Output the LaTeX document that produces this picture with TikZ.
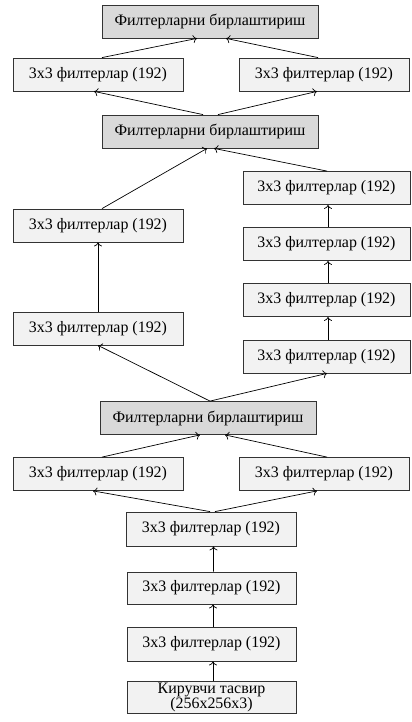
\documentclass[tikz,border=0pt]{standalone}
\usepackage{fontspec}
\setmainfont{Liberation Serif}
\usetikzlibrary{arrows.meta}
\definecolor{boxfill}{HTML}{F2F2F2}
\definecolor{catfill}{HTML}{D9D9D9}
\definecolor{edge}{HTML}{333333}
\begin{document}
\begin{tikzpicture}[x=1bp,y=-1bp,
  box/.style={draw=edge,line width=0.8bp,fill=boxfill,rectangle,inner sep=0pt,
    minimum width=170bp,minimum height=33bp,font=\fontsize{16}{17}\selectfont,align=center},
  colbox/.style={box,minimum width=167bp},
  catbox/.style={box,fill=catfill,minimum width=216bp},
  arr/.style={-{To[length=4bp,width=8bp]},line width=0.7bp,draw=black}]
\useasboundingbox (0,0) rectangle (411,722);
\node[catbox] (C3) at (210,21.5) {Филтерларни бирлаштириш};
\node[box] (L3) at (98,74.5) {3x3 филтерлар (192)};
\node[box] (R3) at (324,74.5) {3x3 филтерлар (192)};
\node[catbox] (C2) at (210,131.5) {Филтерларни бирлаштириш};
\node[colbox] (R4a) at (326.5,188) {3x3 филтерлар (192)};
\node[box] (L4b) at (98,225.5) {3x3 филтерлар (192)};
\node[colbox] (R4b) at (326.5,244) {3x3 филтерлар (192)};
\node[colbox] (R4c) at (326.5,300) {3x3 филтерлар (192)};
\node[box] (L4a) at (98,328.5) {3x3 филтерлар (192)};
\node[colbox] (R4d) at (326.5,356.5) {3x3 филтерлар (192)};
\node[catbox] (C1) at (208,418) {Филтерларни бирлаштириш};
\node[box] (L2) at (98,474) {3x3 филтерлар (192)};
\node[box] (R2) at (324,474) {3x3 филтерлар (192)};
\node[box,minimum height=34bp] (B3) at (211,529) {3x3 филтерлар (192)};
\node[box,minimum width=169bp,minimum height=32bp] (B2) at (211.5,588) {3x3 филтерлар (192)};
\node[box,minimum width=169bp,minimum height=34bp] (B1) at (211.5,644) {3x3 филтерлар (192)};
\node[box,minimum width=169bp,minimum height=32bp,font=\fontsize{16}{14}\selectfont] (In) at (211.5,697.5) {Кирувчи тасвир\\(256x256x3)};
% top block
\draw[arr] ([xshift=4bp]L3.north) -- ([xshift=-13bp]C3.south);
\draw[arr] ([xshift=-6bp]R3.north) -- ([xshift=16bp]C3.south);
\draw[arr] ([xshift=-7bp]C2.north) -- ([xshift=-4bp]L3.south);
\draw[arr] ([xshift=8bp]C2.north) -- ([xshift=-7bp]R3.south);
% middle block
\draw[arr] ([xshift=4bp]L4b.north) -- ([xshift=-3bp]C2.south);
\draw[arr] ([xshift=0.5bp]R4a.north) -- ([xshift=4bp]C2.south);
\draw[arr] (L4a.north) -- (L4b.south);
\draw[arr] ([xshift=1.5bp]R4d.north) -- ([xshift=1.5bp]R4c.south);
\draw[arr] ([xshift=1.5bp]R4c.north) -- ([xshift=1.5bp]R4b.south);
\draw[arr] ([xshift=1.5bp]R4b.north) -- ([xshift=1.5bp]R4a.south);
\draw[arr] ([xshift=2bp]C1.north) -- (L4a.south);
\draw[arr] ([xshift=2bp]C1.north) -- ([xshift=0.5bp]R4d.south);
% lower block
\draw[arr] ([xshift=4bp]L2.north) -- ([xshift=-8bp]C1.south);
\draw[arr] ([xshift=3bp]R2.north) -- ([xshift=17bp]C1.south);
\draw[arr] ([xshift=-1bp]B3.north) -- ([xshift=-5bp]L2.south);
\draw[arr] ([xshift=4bp]B3.north) -- ([xshift=-7bp]R2.south);
\draw[arr] ([xshift=2bp]B2.north) -- ([xshift=2.5bp]B3.south);
\draw[arr] ([xshift=1.5bp]B1.north) -- ([xshift=1.5bp]B2.south);
\draw[arr] ([xshift=1.5bp]In.north) -- ([xshift=1.5bp]B1.south);
\end{tikzpicture}
\end{document}
